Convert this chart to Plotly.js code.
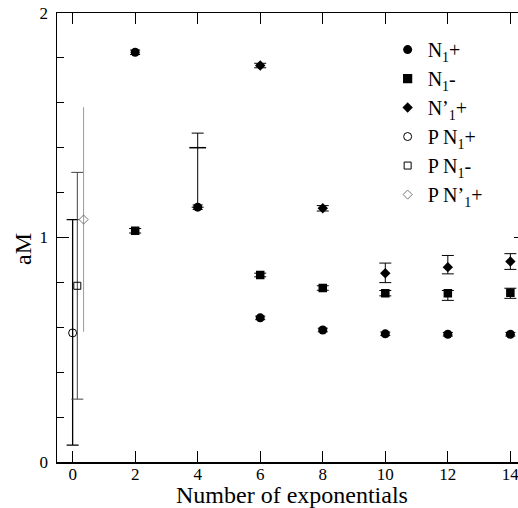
<!DOCTYPE html>
<html>
<head>
<meta charset="utf-8">
<script src="https://cdn.plot.ly/plotly-3.0.1.min.js"></script>
<style>
html,body{margin:0;padding:0;overflow:hidden;background:#fff;}
#chart{width:526px;height:508px;}
</style>
</head>
<body>
<div id="chart"></div>
<script>
// ---- data ----
var xTicks = [0, 2, 4, 6, 8, 10, 12, 14];
var yTickLabels = ['0', '1', '2'];

var xN1p = [2, 4, 6, 8, 10, 12, 14];
var yN1p = [1.825, 1.135, 0.642, 0.588, 0.571, 0.569, 0.569];
var eN1p = [0.010, 0.010, 0.008, 0.008, 0.008, 0.008, 0.008];

var xN1m = [2, 4, 6, 8, 10, 12, 14];
var yN1m = [1.030, 1.400, 0.833, 0.775, 0.752, 0.752, 0.754];
var eN1mUp = [0.010, 0.065, 0.008, 0.010, 0.012, 0.012, 0.020];
var eN1mDn = [0.010, 0.265, 0.008, 0.010, 0.012, 0.032, 0.025];

var xN1q = [6, 8, 10, 12, 14];
var yN1q = [1.766, 1.130, 0.841, 0.868, 0.893];
var eN1qUp = [0.010, 0.012, 0.045, 0.052, 0.035];
var eN1qDn = [0.010, 0.012, 0.042, 0.030, 0.035];

var xPN1p = [0.0];
var yPN1p = [0.575];
var ePN1pUp = [0.505];
var ePN1pDn = [0.500];

var xPN1m = [0.15];
var yPN1m = [0.785];
var ePN1mUp = [0.505];
var ePN1mDn = [0.505];

var xPN1q = [0.35];
var yPN1q = [1.080];
var ePN1qUp = [0.500];
var ePN1qDn = [0.500];

var names = ['N<sub>1</sub>+', 'N<sub>1</sub>-', 'N’<sub>1</sub>+',
             'P N<sub>1</sub>+', 'P N<sub>1</sub>-', 'P N’<sub>1</sub>+'];

// ---- traces ----
function eb(up, dn, color, w, th) {
  return {type: 'data', symmetric: false, array: up, arrayminus: dn,
          color: color, width: w, thickness: th};
}
var traces = [
  {x: xN1p, y: yN1p, name: names[0], mode: 'markers', type: 'scatter',
   marker: {symbol: 'circle', size: 9, color: 'black', opacity: 1},
   error_y: eb(eN1p, eN1p, 'black', 5, 1)},
  {x: xN1m, y: yN1m, name: names[1], mode: 'markers', type: 'scatter',
   marker: {symbol: ['square', 'line-ew-open', 'square', 'square', 'square', 'square', 'square'],
            size: [7, 12, 7, 7, 7, 7, 7], color: 'black', opacity: 1,
            line: {color: 'black', width: 1.5}},
   error_y: eb(eN1mUp, eN1mDn, 'black', 6, 1)},
  {x: xN1q, y: yN1q, name: names[2], mode: 'markers', type: 'scatter',
   marker: {symbol: 'diamond', size: 8, color: 'black', opacity: 1},
   error_y: eb(eN1qUp, eN1qDn, 'black', 6, 1)},
  {x: xPN1p, y: yPN1p, name: names[3], mode: 'markers', type: 'scatter',
   marker: {symbol: 'circle-open', size: 8, color: 'black', line: {width: 1}},
   error_y: eb(ePN1pUp, ePN1pDn, 'black', 6, 1.3)},
  {x: xPN1m, y: yPN1m, name: names[4], mode: 'markers', type: 'scatter',
   marker: {symbol: 'square-open', size: 7, color: 'black', line: {width: 1}},
   error_y: eb(ePN1mUp, ePN1mDn, '#444', 6, 1)},
  {x: xPN1q, y: yPN1q, name: names[5], mode: 'markers', type: 'scatter',
   marker: {symbol: 'diamond-open', size: 7, color: '#777', line: {width: 1}},
   error_y: eb(ePN1qUp, ePN1qDn, '#999', 0, 1)}
];

var serif = 'Liberation Serif, Times New Roman, serif';

var layout = {
  width: 526, height: 508,
  margin: {l: 57, r: 0, t: 13, b: 46},
  paper_bgcolor: 'white', plot_bgcolor: 'white',
  font: {family: serif, color: 'black', size: 17},
  showlegend: true,
  legend: {x: 0.705, y: 0.962, xanchor: 'left', yanchor: 'top',
           font: {family: serif, size: 20, color: 'black'},
           bgcolor: 'rgba(0,0,0,0)', borderwidth: 0},
  xaxis: {range: [-0.5, 14.5], tickvals: xTicks, ticktext: xTicks.map(String),
          ticks: 'inside', ticklen: 11, tickwidth: 1.3, tickcolor: 'black',
          ticklabelstandoff: -4,
          showline: true, linecolor: 'black', linewidth: 1.5, mirror: 'ticks',
          showgrid: false, zeroline: false,
          tickfont: {family: serif, size: 17, color: 'black'}},
  yaxis: {range: [0, 2], tickvals: [0, 1, 2], ticktext: yTickLabels,
          ticks: 'inside', ticklen: 12, tickwidth: 1.3, tickcolor: 'black',
          ticklabelstandoff: 4,
          minor: {dtick: 0.2, ticks: 'inside', ticklen: 7, tickcolor: 'black', tickwidth: 1},
          showline: true, linecolor: 'black', linewidth: 1.5, mirror: 'ticks',
          showgrid: false, zeroline: false,
          tickfont: {family: serif, size: 17, color: 'black'}},
  annotations: [
    {text: 'Number of exponentials', xref: 'paper', yref: 'paper',
     x: 0.5, y: -0.0728, xanchor: 'center', yanchor: 'middle', showarrow: false,
     font: {family: serif, size: 24, color: 'black'}},
    {text: 'aM', xref: 'paper', yref: 'paper', textangle: -90,
     x: -0.0725, y: 0.4744, xanchor: 'center', yanchor: 'middle', showarrow: false,
     font: {family: serif, size: 24, color: 'black'}}
  ]
};

Plotly.newPlot('chart', traces, layout, {staticPlot: true, displayModeBar: false});
</script>
</body>
</html>
